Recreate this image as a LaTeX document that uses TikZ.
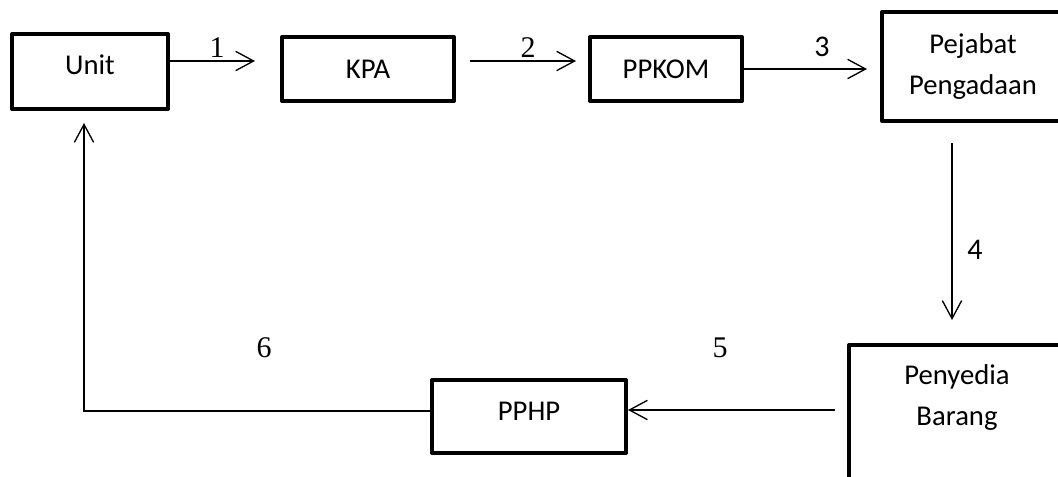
\documentclass[tikz,border=0pt]{standalone}
\usepackage{fontspec}
\setmainfont{Carlito}
\newfontfamily\serifdigits{Liberation Serif}
\usetikzlibrary{arrows.meta}
\begin{document}
\begin{tikzpicture}[x=0.75pt,y=-0.75pt,
  box/.style={draw, line width=3pt, line join=round, inner sep=0pt, align=center,
    font=\fontsize{21.5}{30.75}\selectfont},
  boxtext/.style={inner sep=0pt, align=center, font=\fontsize{21.5}{30.75}\selectfont},
  conn/.style={line width=1pt, -{Straight Barb[length=13.5pt,width=14.5pt]}},
  num/.style={inner sep=0pt, font=\serifdigits\fontsize{22.5}{27}\selectfont},
  numsans/.style={inner sep=0pt, font=\fontsize{22.5}{27}\selectfont}]
\useasboundingbox (0,0) rectangle (1058,477);
\clip (0,0) rectangle (1058,477);
% boxes
\node[box, minimum width=117pt, minimum height=56.25pt, text depth=10.5pt] (unit) at (90,71.5) {Unit};
\node[box, minimum width=129pt, minimum height=48pt] (kpa) at (368,69) {KPA};
\node[box, minimum width=114pt, minimum height=48pt] (ppkom) at (666,69) {PPKOM};
\node[box, minimum width=136.5pt, minimum height=81.75pt] (pejabat) at (973,66.5) {Pejabat\\Pengadaan};
\node[box, minimum width=162pt, minimum height=131.25pt] (penyedia) at (957,432.5) {};
\node[boxtext] (penyediatxt) at (957,398) {Penyedia\\Barang};
\node[box, minimum width=145.5pt, minimum height=54.75pt, text depth=8.25pt] (pphp) at (529,416.5) {PPHP};
% connectors
\draw[conn, shorten >=18.75pt] (unit.east |- 0,61) -- (kpa.west |- 0,61);
\draw[conn, shorten <=10.5pt, shorten >=9pt] (kpa.east |- 0,61) -- (ppkom.west |- 0,61);
\draw[conn, shorten >=9.75pt] (ppkom.east |- 0,69) -- (pejabat.west |- 0,69);
\draw[conn, shorten <=15pt, shorten >=17.25pt] (pejabat.south -| 952,0) -- (penyedia.north -| 952,0);
\draw[conn, shorten <=9pt] (penyedia.west |- 0,410) -- (pphp.east |- 0,410);
\draw[conn, shorten >=9pt] (pphp.west |- 0,411) -| (unit.south -| 84,0);
% labels
\node[num] (l1) at (217,48) {1};
\node[num] (l2) at (528,48) {2};
\node[numsans] (l3) at (822,47) {3};
\node[numsans] (l4) at (975,250) {4};
\node[num] (l5) at (720,348) {5};
\node[num] (l6) at (264,348) {6};
\end{tikzpicture}
\end{document}
